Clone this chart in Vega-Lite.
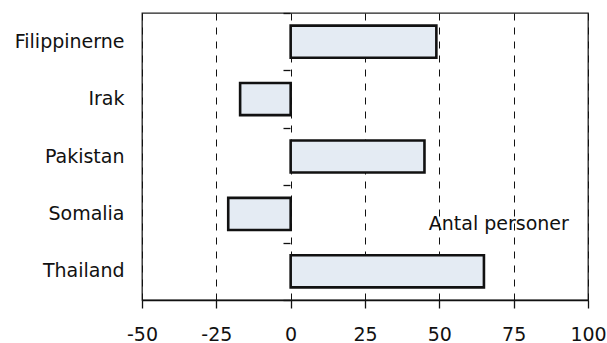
{
  "$schema": "https://vega.github.io/schema/vega-lite/v6.json",
  "width": 446,
  "height": 287,
  "autosize": {"type": "none"},
  "padding": {"left": 142, "top": 13, "right": 19, "bottom": 43},
  "config": {
    "font": "DejaVu Sans",
    "view": {"stroke": "#222", "strokeWidth": 1.3}
  },
  "data": {
    "values": [
      {"country": "Filippinerne", "value": 49},
      {"country": "Irak", "value": -17},
      {"country": "Pakistan", "value": 45},
      {"country": "Somalia", "value": -21},
      {"country": "Thailand", "value": 65}
    ]
  },
  "layer": [
    {
      "mark": {"type": "bar", "fill": "#e4ebf3", "stroke": "#111", "strokeWidth": 2.6},
      "encoding": {
        "y": {
          "field": "country", "type": "nominal", "sort": null,
          "scale": {"paddingInner": 0.44, "paddingOuter": 0.22},
          "axis": {"title": null, "ticks": false, "domain": false, "labelPadding": 18, "labelFontSize": 19, "labelColor": "#111", "labelFont": "DejaVu Sans"}
        },
        "x": {
          "field": "value", "type": "quantitative",
          "scale": {"domain": [-50, 100], "nice": false},
          "axis": {
            "title": null, "values": [-50, -25, 0, 25, 50, 75, 100],
            "labelExpr": "'' + datum.value",
            "grid": true, "gridDash": [7, 7], "gridColor": "#111", "gridWidth": 1,
            "domainColor": "#111", "domainWidth": 1.3,
            "tickColor": "#111", "tickSize": 8, "tickWidth": 1.3,
            "labelFontSize": 19, "labelColor": "#111", "labelPadding": 17, "labelFlush": false
          }
        }
      }
    },
    {
      "mark": {"type": "tick", "opacity": 0},
      "encoding": {
        "y": {
          "field": "country", "type": "nominal", "sort": null,
          "scale": {"padding": 0},
          "axis": {"title": null, "orient": "left", "offset": -148, "labels": false, "domain": false, "ticks": true, "tickBand": "extent", "tickSize": 7, "tickColor": "#111", "tickWidth": 1.3}
        },
        "x": {"field": "value", "type": "quantitative"}
      }
    },
    {
      "data": {"values": [{"label": "Antal personer", "x": 70, "country": "Somalia"}]},
      "mark": {"type": "text", "fontSize": 19, "color": "#111", "align": "center", "dy": 10},
      "encoding": {
        "x": {"field": "x", "type": "quantitative"},
        "y": {
          "field": "country", "type": "nominal",
          "scale": {"domain": ["Filippinerne", "Irak", "Pakistan", "Somalia", "Thailand"], "paddingInner": 0.44, "paddingOuter": 0.22},
          "axis": null
        },
        "text": {"field": "label"}
      }
    }
  ],
  "resolve": {"scale": {"y": "independent"}, "axis": {"y": "independent"}}
}
